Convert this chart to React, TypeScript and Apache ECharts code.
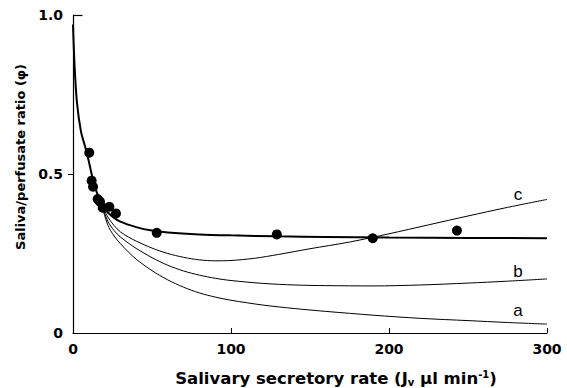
import React, { useEffect, useRef } from "react";
import * as echarts from "echarts";

// Tick values / labels
const xTicks = [0, 100, 200, 300];
const yTicks = [0, 0.5, 1.0];
const yTickLabels = ["0", "0.5", "1.0"];

// Fitted curve (thick)
const fitX = [0, 1, 2.5, 5, 8, 10, 12, 14, 16, 18, 20, 25, 30, 40, 50, 60, 80, 100, 130, 160, 200, 250, 300];
const fitY = [0.97, 0.84, 0.725, 0.635, 0.58, 0.54, 0.495, 0.458, 0.43, 0.405, 0.39, 0.366, 0.35, 0.333, 0.322, 0.316, 0.31, 0.307, 0.304, 0.302, 0.3, 0.299, 0.298];

// Curve c
const cX = [18, 22, 26, 30, 35, 40, 50, 60, 70, 80, 90, 100, 115, 130, 150, 175, 200, 225, 250, 275, 300];
const cY = [0.405, 0.365, 0.338, 0.318, 0.302, 0.289, 0.267, 0.25, 0.238, 0.23, 0.227, 0.228, 0.235, 0.247, 0.265, 0.286, 0.312, 0.34, 0.368, 0.395, 0.42];

// Curve b
const bX = [18, 22, 26, 30, 35, 40, 50, 60, 70, 80, 90, 100, 120, 140, 160, 190, 220, 250, 275, 300];
const bY = [0.405, 0.352, 0.322, 0.302, 0.283, 0.266, 0.237, 0.213, 0.195, 0.182, 0.172, 0.165, 0.156, 0.151, 0.149, 0.148, 0.151, 0.157, 0.163, 0.17];

// Curve a
const aX = [18, 22, 26, 30, 35, 40, 50, 60, 70, 80, 90, 100, 120, 140, 160, 190, 220, 250, 275, 300];
const aY = [0.405, 0.34, 0.305, 0.281, 0.255, 0.232, 0.196, 0.167, 0.144, 0.126, 0.113, 0.103, 0.088, 0.077, 0.068, 0.056, 0.046, 0.039, 0.033, 0.028];

// Measured points
const ptsX = [10.3, 11.8, 12.7, 15.6, 17.1, 18.8, 23, 27.2, 53, 129, 189.7, 243];
const ptsY = [0.567, 0.479, 0.46, 0.421, 0.413, 0.394, 0.397, 0.376, 0.315, 0.31, 0.298, 0.322];

const curveLabels = ["a", "b", "c"];

const zip = (xs: number[], ys: number[]) => xs.map((x, i) => [x, ys[i]]);

export default function App() {
  const ref = useRef<HTMLDivElement>(null);
  useEffect(() => {
    document.body.style.margin = "0";
    const chart = echarts.init(ref.current!, null, { renderer: "svg" });
    const thin = (name: string, xs: number[], ys: number[], dy: number) => ({
      type: "line",
      name,
      data: zip(xs, ys),
      showSymbol: false,
      smooth: 0.3,
      lineStyle: { color: "#000", width: 1 },
      endLabel: {
        show: true,
        formatter: name,
        color: "#000",
        fontFamily: "Liberation Sans",
        fontSize: 17,
        align: "center",
        verticalAlign: "middle",
        distance: 0,
        offset: [-29, dy],
      },
      z: 2,
    });
    chart.setOption({
      animation: false,
      backgroundColor: "#fff",
      grid: { left: 73, right: 20, top: 15, bottom: 55, outerBoundsMode: "none" },
      xAxis: {
        type: "value",
        min: 0,
        max: 300,
        interval: 100,
        axisLine: { show: true, lineStyle: { color: "#000", width: 1.2 } },
        axisTick: { show: true, inside: true, length: 5, customValues: xTicks.slice(1), lineStyle: { color: "#000" } },
        axisLabel: {
          customValues: xTicks,
          color: "#000",
          fontFamily: "DejaVu Sans",
          fontWeight: "bold",
          fontSize: 14,
          margin: 9,
        },
        splitLine: { show: false },
      },
      yAxis: {
        type: "value",
        min: 0,
        max: 1,
        interval: 0.5,
        axisLine: { show: true, lineStyle: { color: "#000", width: 1.2 } },
        axisTick: { show: true, inside: false, length: 5, customValues: [0.5], lineStyle: { color: "#000" } },
        axisLabel: {
          customValues: yTicks,
          formatter: (v: number) => yTickLabels[yTicks.indexOf(v)] ?? String(v),
          color: "#000",
          fontFamily: "DejaVu Sans",
          fontWeight: "bold",
          fontSize: 14,
          margin: 10,
        },
        splitLine: { show: false },
      },
      graphic: [
        {
          type: "text",
          x: 20,
          y: 157,
          rotation: Math.PI / 2,
          style: {
            text: "Saliva/perfusate ratio (φ)",
            fontFamily: "DejaVu Sans",
            fontWeight: "bold",
            fontSize: 13,
            fill: "#000",
            align: "center",
            verticalAlign: "middle",
          },
        },
        {
          type: "text",
          x: 336,
          y: 378,
          style: {
            text: "Salivary secretory rate (J{sub|v} µl min{sup|-1})",
            fontFamily: "DejaVu Sans",
            fontWeight: "bold",
            fontSize: 16.5,
            fill: "#000",
            align: "center",
            verticalAlign: "middle",
            rich: {
              sub: { fontFamily: "DejaVu Sans", fontWeight: "bold", fontSize: 10, padding: [8, 0, 0, 0] },
              sup: { fontFamily: "DejaVu Sans", fontWeight: "bold", fontSize: 10, padding: [0, 0, 8, 0] },
            },
          },
        },
      ],
      series: [
        thin(curveLabels[2], cX, cY, -5),
        thin(curveLabels[1], bX, bY, -7),
        thin(curveLabels[0], aX, aY, -14),
        {
          type: "line",
          name: "fit",
          data: zip(fitX, fitY),
          showSymbol: false,
          smooth: 0.3,
          lineStyle: { color: "#000", width: 2 },
          markLine: {
            silent: true,
            symbol: "none",
            label: { show: false },
            lineStyle: { color: "#000", width: 1.2, type: "solid" },
            data: [[{ coord: [0, 1] }, { coord: [6, 1] }]],
          },
          z: 3,
        },
        {
          type: "scatter",
          name: "data",
          data: zip(ptsX, ptsY),
          symbol: "circle",
          symbolSize: 10,
          itemStyle: { color: "#000", opacity: 1 },
          z: 4,
        },
      ],
    });
    return () => chart.dispose();
  }, []);
  return <div ref={ref} style={{ width: 567, height: 388 }} />;
}
